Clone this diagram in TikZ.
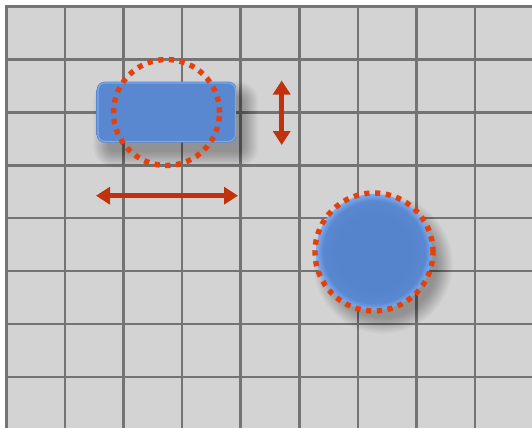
\documentclass[tikz,border=0pt]{standalone}
\usetikzlibrary{arrows.meta}
\definecolor{cellgray}{HTML}{D3D3D3}
\definecolor{gridgray}{HTML}{747474}
\definecolor{dotred}{HTML}{E4400E}
\definecolor{arrred}{HTML}{C0320C}
\definecolor{blueA}{HTML}{84B6F8}
\definecolor{blueB}{HTML}{5A88D0}
\definecolor{blueC}{HTML}{5584CC}
\definecolor{blueD}{HTML}{7AACF4}
\pgfdeclareverticalshading{pill}{100bp}{color(0bp)=(blueA); color(12bp)=(blueB); color(88bp)=(blueB); color(100bp)=(blueA)}
\pgfdeclareradialshading{ball}{\pgfpoint{0bp}{0bp}}{color(0bp)=(blueC); color(16bp)=(blueC); color(22bp)=(blueB); color(25bp)=(blueD); color(50bp)=(blueD)}
\tikzset{
  gridline/.style={draw=gridgray,line width=2.6pt},
  dotring/.style={draw=dotred,line width=5.4pt,dash pattern=on 5.2pt off 5.6pt,circle,inner sep=0pt},
  dblarrow/.style={draw=arrred,line width=4.8pt,{Triangle[length=14pt,width=17pt]}-{Triangle[length=14pt,width=17pt]}},
  shadowlayer/.style={fill=black,opacity=0.022}
}
\begin{document}
\begin{tikzpicture}[x=1pt,y=-1pt]
\useasboundingbox (0,0) rectangle (532,428);
\fill[white] (0,0) rectangle (532,428);
\fill[cellgray] (5,5) rectangle (532,428);
\foreach \i in {0,...,8} \draw[gridline] ({6.3+58.6*\i},5) -- ({6.3+58.6*\i},428);
\foreach \j in {0,...,7} \draw[gridline] (5,{6.5+52.9*\j}) -- (532,{6.5+52.9*\j});
% soft shadows
\foreach \k in {0,...,13} {
  \pgfmathsetmacro{\e}{(13-\k)*1.2-3}
  \fill[shadowlayer,rounded corners={max(8+\e,2)*1pt}] ({96.7+9-\e},{81.7+12-\e}) rectangle ({236.7+9+\e},{142.7+12+\e});
  \fill[shadowlayer] (383,264) circle ({57+\e});
}
% rounded rectangle
\node[rectangle,rounded corners=8pt,minimum width=140pt,minimum height=61pt,inner sep=0pt,shading=pill] (pillnode) at (166.7,112.2) {};
\draw[blueA,line width=1.2pt,rounded corners=7pt,opacity=0.7] ([shift={(1.5pt,1.5pt)}]pillnode.south west) rectangle ([shift={(-1.5pt,-1.5pt)}]pillnode.north east);
% circle
\node[circle,minimum size=116pt,inner sep=0pt,shading=ball] (ballnode) at (374,252) {};
% dotted rings
\node[dotring,minimum size=106pt] (ringA) at (166.5,112.5) {};
\node[dotring,minimum size=118pt] (ringB) at (374,252) {};
% arrows
\coordinate (vtop) at (281.7,80.5);
\coordinate (vbot) at (281.7,145);
\coordinate (hleft) at (96,195.7);
\coordinate (hright) at (238,195.7);
\draw[dblarrow] (vtop) -- (vbot);
\draw[dblarrow] (hleft) -- (hright);
\end{tikzpicture}
\end{document}
